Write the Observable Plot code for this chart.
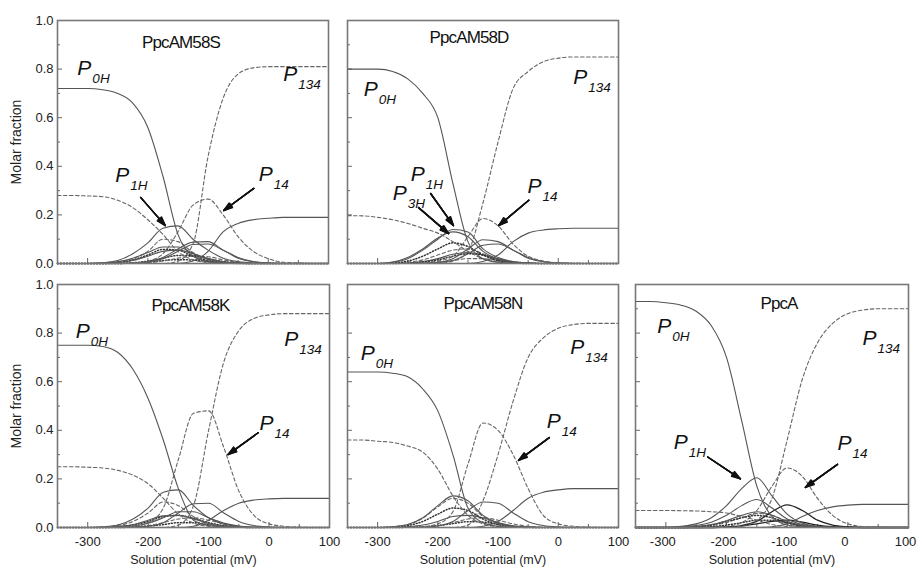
<!DOCTYPE html>
<html><head><meta charset="utf-8">
<script src="https://cdn.jsdelivr.net/npm/d3@7"></script>
<script src="https://cdn.jsdelivr.net/npm/@observablehq/plot@0.6"></script>
<style>
html,body{margin:0;padding:0;background:#fff;}
#chart{position:relative;width:917px;height:568px;overflow:hidden;background:#fff;font-family:"Liberation Sans",Arial,sans-serif;}
</style></head>
<body><div id="chart"></div>
<script>
// Solution potential grid (mV)
const X = [-350,-325,-300,-275,-250,-225,-200,-175,-150,-125,-100,-75,-50,-25,0,25,50,75,100];
const yTickValues = [0,0.2,0.4,0.6,0.8,1.0];
const yMinorTicks = [0.1,0.3,0.5,0.7,0.9];
const xTickValues = [-300,-200,-100,0,100];
const xMinorTicks = [-250,-150,-50,50];
const panelTitles = ["PpcAM58S","PpcAM58D","PpcAM58K","PpcAM58N","PpcA"];

// ---- PpcAM58S ----
const S_P0H   = [.72,.72,.72,.715,.70,.66,.56,.36,.12,.03,.008,.002,0,0,0,0,0,0,0];
const S_P134  = [0,0,0,0,0,0,0,0,.01,.08,.44,.68,.78,.805,.81,.81,.81,.81,.81];
const S_Pdesc = [.28,.28,.278,.275,.26,.23,.18,.12,.05,.015,.004,.001,0,0,0,0,0,0,0];
const S_P14   = [0,0,0,0,0,.002,.01,.04,.13,.24,.265,.20,.11,.05,.02,.005,.002,0,0];
const S_Prise = [0,0,0,0,0,0,0,0,0,.01,.05,.13,.165,.18,.186,.19,.19,.19,.19];
const S_P1H   = [0,0,0,.003,.012,.04,.085,.145,.155,.10,.055,.022,.008,.002,0,0,0,0,0];
const S_a = [0,0,0,0,0,.002,.008,.025,.06,.088,.09,.055,.022,.007,.002,0,0,0,0];
const S_b = [0,0,0,0,0,0,.005,.02,.05,.078,.08,.055,.025,.008,.002,0,0,0,0];
const S_c = [0,0,0,.002,.008,.022,.045,.068,.068,.042,.018,.006,.002,0,0,0,0,0,0];
const S_d = [0,0,0,0,.004,.012,.03,.05,.055,.04,.02,.007,.002,0,0,0,0,0,0];
const S_e = [0,0,0,.001,.006,.02,.05,.10,.09,.045,.015,.004,0,0,0,0,0,0,0];
const S_f = [0,0,0,0,.004,.015,.035,.058,.055,.03,.012,.004,0,0,0,0,0,0,0];
const S_g = [0,0,0,0,0,.003,.01,.022,.033,.033,.02,.008,.002,0,0,0,0,0,0];
const S_h = [0,0,0,0,0,0,.003,.01,.022,.03,.028,.015,.005,.001,0,0,0,0,0];
const S_i = [0,0,0,0,0,.002,.006,.012,.016,.014,.008,.003,.001,0,0,0,0,0,0];
const S_labelNames = ["0H","134","1H","14"];
const S_labelX = [-317,25,-254,-16];
const S_labelY = [.774,.75,.337,.34];
const S_arrowX1 = [-212,-24], S_arrowY1 = [.272,.309], S_arrowX2 = [-171,-74], S_arrowY2 = [.156,.218];

// ---- PpcAM58D ----
const D_P0H   = [.80,.80,.80,.79,.76,.70,.60,.33,.09,.02,.005,.001,0,0,0,0,0,0,0];
const D_P134  = [0,0,0,0,0,0,0,.01,.05,.25,.50,.72,.79,.83,.845,.85,.85,.85,.85];
const D_Pdesc = [.197,.196,.19,.18,.165,.145,.125,.09,.05,.02,.006,.001,0,0,0,0,0,0,0];
const D_P14   = [0,0,0,0,0,.003,.01,.03,.11,.185,.155,.08,.03,.01,.003,.001,0,0,0];
const D_Prise = [0,0,0,0,0,0,0,0,0,.008,.035,.09,.125,.138,.143,.145,.145,.145,.145];
const D_P1H   = [0,0,0,.005,.02,.055,.10,.14,.13,.06,.025,.008,.002,0,0,0,0,0,0];
const D_P3H   = [0,0,0,.006,.025,.06,.105,.13,.11,.05,.018,.005,.001,0,0,0,0,0,0];
const D_a = [0,0,0,0,0,.002,.005,.02,.06,.098,.09,.055,.022,.007,.002,0,0,0,0];
const D_b = [0,0,0,0,0,0,.003,.012,.04,.075,.08,.055,.025,.008,.002,0,0,0,0];
const D_c = [0,0,0,.002,.01,.03,.06,.085,.07,.035,.012,.003,0,0,0,0,0,0,0];
const D_d = [0,0,0,0,.005,.015,.035,.055,.06,.04,.018,.006,.001,0,0,0,0,0,0];
const D_e = [0,0,0,0,.002,.006,.015,.03,.04,.035,.018,.007,.002,0,0,0,0,0,0];
const D_f = [0,0,0,0,.002,.008,.02,.038,.045,.035,.018,.006,.002,0,0,0,0,0,0];
const D_g = [0,0,0,0,0,.002,.006,.012,.02,.02,.012,.005,.001,0,0,0,0,0,0];
const D_labelNames = ["0H","134","1H","3H","14"];
const D_labelX = [-323,25,-245,-275,-51];
const D_labelY = [.69,.74,.34,.26,.29];
const D_arrowX1 = [-212,-232,-49], D_arrowY1 = [.288,.23,.26], D_arrowX2 = [-174,-182,-99], D_arrowY2 = [.156,.123,.156];

// ---- PpcAM58K ----
const K_P0H   = [.75,.75,.75,.745,.72,.65,.53,.36,.16,.03,.008,.002,0,0,0,0,0,0,0];
const K_P134  = [0,0,0,0,0,0,0,0,.01,.09,.40,.68,.81,.86,.875,.88,.88,.88,.88];
const K_Pdesc = [.25,.25,.248,.245,.235,.215,.18,.12,.055,.018,.005,.001,0,0,0,0,0,0,0];
const K_P14   = [0,0,0,0,.001,.005,.02,.08,.28,.47,.48,.33,.15,.05,.015,.005,.001,0,0];
const K_Prise = [0,0,0,0,0,0,0,0,0,.005,.03,.07,.10,.113,.118,.12,.12,.12,.12];
const K_P1H   = [0,0,0,.003,.01,.035,.08,.145,.155,.09,.04,.013,.004,.001,0,0,0,0,0];
const K_a = [0,0,0,0,0,.002,.005,.02,.06,.098,.10,.06,.025,.008,.002,0,0,0,0];
const K_b = [0,0,0,.002,.008,.025,.06,.105,.09,.045,.015,.004,.001,0,0,0,0,0,0];
const K_c = [0,0,0,0,.004,.012,.03,.048,.05,.035,.016,.005,.001,0,0,0,0,0,0];
const K_d = [0,0,0,0,.003,.01,.025,.045,.05,.038,.02,.008,.002,0,0,0,0,0,0];
const K_e = [0,0,0,0,0,.002,.008,.02,.035,.04,.03,.015,.005,.001,0,0,0,0,0];
const K_f = [0,0,0,0,0,.002,.006,.012,.02,.02,.012,.005,.001,0,0,0,0,0,0];
const K_g = [0,0,0,0,.002,.006,.018,.04,.065,.065,.04,.018,.006,.001,0,0,0,0,0];
const K_labelNames = ["0H","134","14"];
const K_labelX = [-320,25,-16];
const K_labelY = [.78,.745,.40];
const K_arrowX1 = [-18], K_arrowY1 = [.39], K_arrowX2 = [-68], K_arrowY2 = [.30];

// ---- PpcAM58N ----
const N_P0H   = [.64,.64,.64,.635,.62,.57,.48,.30,.08,.02,.005,.001,0,0,0,0,0,0,0];
const N_P134  = [0,0,0,0,0,0,0,0,.01,.11,.30,.52,.70,.78,.82,.835,.84,.84,.84];
const N_Pdesc = [.36,.36,.355,.35,.335,.31,.24,.13,.05,.015,.004,.001,0,0,0,0,0,0,0];
const N_P14   = [0,0,0,0,0,.003,.015,.065,.26,.43,.40,.30,.16,.05,.015,.005,.001,0,0];
const N_Prise = [0,0,0,0,0,0,0,0,0,.005,.025,.07,.12,.145,.155,.16,.16,.16,.16];
const N_P1H   = [0,0,0,.003,.012,.04,.09,.13,.11,.05,.018,.005,.001,0,0,0,0,0,0];
const N_a = [0,0,0,0,0,.002,.006,.025,.07,.105,.10,.06,.024,.008,.002,0,0,0,0];
const N_b = [0,0,0,.003,.012,.038,.085,.12,.10,.045,.015,.004,.001,0,0,0,0,0,0];
const N_c = [0,0,0,.002,.008,.025,.055,.08,.07,.035,.012,.003,0,0,0,0,0,0,0];
const N_d = [0,0,0,0,.003,.01,.025,.045,.05,.04,.02,.007,.002,0,0,0,0,0,0];
const N_e = [0,0,0,0,0,.002,.008,.02,.035,.04,.03,.015,.005,.001,0,0,0,0,0];
const N_f = [0,0,0,0,.001,.003,.008,.016,.024,.022,.013,.005,.001,0,0,0,0,0,0];
const N_labelNames = ["0H","134","14"];
const N_labelX = [-328,20,-19];
const N_labelY = [.69,.716,.41];
const N_arrowX1 = [-15], N_arrowY1 = [.37], N_arrowX2 = [-66], N_arrowY2 = [.276];

// ---- PpcA ----
const A_P0H   = [.93,.93,.925,.915,.89,.83,.70,.44,.17,.045,.01,.003,0,0,0,0,0,0,0];
const A_P134  = [0,0,0,0,0,0,0,.005,.03,.12,.36,.61,.76,.84,.88,.895,.90,.90,.90];
const A_Pdesc = [.07,.07,.07,.069,.068,.065,.06,.045,.03,.012,.004,.001,0,0,0,0,0,0,0];
const A_P14   = [0,0,0,0,0,.001,.005,.02,.07,.17,.245,.21,.12,.05,.015,.004,.001,0,0];
const A_Prise = [0,0,0,0,0,0,0,0,0,.003,.015,.045,.07,.085,.092,.095,.095,.095,.095];
const A_P1H   = [0,0,0,.005,.015,.04,.09,.16,.205,.13,.055,.018,.005,.001,0,0,0,0,0];
const A_a = [0,0,0,.003,.008,.022,.05,.09,.115,.08,.035,.012,.003,0,0,0,0,0,0];
const A_b = [0,0,0,0,0,0,.002,.008,.025,.065,.093,.07,.03,.01,.003,0,0,0,0];
const A_c = [0,0,0,.001,.004,.012,.028,.05,.065,.05,.025,.008,.002,0,0,0,0,0,0];
const A_d = [0,0,0,0,.003,.01,.025,.04,.05,.04,.02,.007,.002,0,0,0,0,0,0];
const A_e = [0,0,0,0,.002,.008,.02,.04,.058,.05,.025,.008,.002,0,0,0,0,0,0];
const A_f = [0,0,0,0,0,.003,.01,.02,.03,.03,.018,.006,.001,0,0,0,0,0,0];
const A_g = [0,0,0,0,0,0,.002,.006,.015,.025,.03,.022,.01,.003,0,0,0,0,0];
const A_labelNames = ["0H","134","1H","14"];
const A_labelX = [-314,24,-287,-17];
const A_labelY = [.80,.75,.325,.317];
const A_arrowX1 = [-231,-17], A_arrowY1 = [.29,.26], A_arrowX2 = [-177,-70], A_arrowY2 = [.20,.165];

const STYLES = {
  solid: {stroke:"#555", strokeWidth:1.1},
  dark:  {stroke:"#222", strokeWidth:1.3},
  dash:  {stroke:"#666", strokeWidth:1.1, strokeDasharray:"3.5,2.5"},
  dot:   {stroke:"#333", strokeWidth:1.5, strokeDasharray:"1,2"}
};

const panels = [
  {title:panelTitles[0], left:57, top:20, w:271, h:243, showY:true, showX:false, tdx:-12, tdy:22, xdx:0,
   series:[[S_i,"dot"],[S_h,"dash"],[S_g,"dot"],[S_f,"dot"],[S_e,"dash"],[S_d,"solid"],[S_c,"solid"],[S_b,"solid"],[S_a,"solid"],
           [S_P1H,"solid"],[S_Prise,"solid"],[S_P14,"dash"],[S_Pdesc,"dash"],[S_P134,"dash"],[S_P0H,"solid"]],
   ln:S_labelNames, lx:S_labelX, ly:S_labelY, ax1:S_arrowX1, ay1:S_arrowY1, ax2:S_arrowX2, ay2:S_arrowY2},
  {title:panelTitles[1], left:347, top:20, w:271, h:243, showY:false, showX:false, tdx:-14, tdy:17, xdx:0,
   series:[[D_g,"dash"],[D_f,"solid"],[D_e,"dot"],[D_d,"dash"],[D_c,"dot"],[D_b,"solid"],[D_a,"solid"],[D_P3H,"solid"],
           [D_P1H,"solid"],[D_Prise,"solid"],[D_P14,"dash"],[D_Pdesc,"dash"],[D_P134,"dash"],[D_P0H,"solid"]],
   ln:D_labelNames, lx:D_labelX, ly:D_labelY, ax1:D_arrowX1, ay1:D_arrowY1, ax2:D_arrowX2, ay2:D_arrowY2},
  {title:panelTitles[2], left:57, top:284, w:272, h:243, showY:true, showX:true, tdx:-3, tdy:21, xdx:0,
   series:[[K_f,"dot"],[K_e,"dash"],[K_d,"dot"],[K_c,"solid"],[K_g,"solid"],[K_b,"dash"],[K_a,"solid"],
           [K_P1H,"solid"],[K_Prise,"solid"],[K_P14,"dash"],[K_Pdesc,"dash"],[K_P134,"dash"],[K_P0H,"solid"]],
   ln:K_labelNames, lx:K_labelX, ly:K_labelY, ax1:K_arrowX1, ay1:K_arrowY1, ax2:K_arrowX2, ay2:K_arrowY2},
  {title:panelTitles[3], left:347, top:284, w:271, h:243, showY:false, showX:true, tdx:0, tdy:19, xdx:0,
   series:[[N_f,"dot"],[N_e,"dash"],[N_d,"solid"],[N_c,"dot"],[N_b,"dash"],[N_a,"solid"],
           [N_P1H,"solid"],[N_Prise,"solid"],[N_P14,"dash"],[N_Pdesc,"dash"],[N_P134,"dash"],[N_P0H,"solid"]],
   ln:N_labelNames, lx:N_labelX, ly:N_labelY, ax1:N_arrowX1, ay1:N_arrowY1, ax2:N_arrowX2, ay2:N_arrowY2},
  {title:panelTitles[4], left:635, top:284, w:273, h:243, showY:false, showX:true, tdx:7, tdy:19, xdx:-3,
   series:[[A_g,"dark"],[A_f,"dot"],[A_e,"dash"],[A_d,"dot"],[A_c,"solid"],[A_b,"dark"],[A_a,"solid"],
           [A_P1H,"solid"],[A_Prise,"solid"],[A_P14,"dash"],[A_Pdesc,"dash"],[A_P134,"dash"],[A_P0H,"solid"]],
   ln:A_labelNames, lx:A_labelX, ly:A_labelY, ax1:A_arrowX1, ay1:A_arrowY1, ax2:A_arrowX2, ay2:A_arrowY2}
];

const chart = document.getElementById("chart");
for (const p of panels) {
  const mL = p.showY ? 57 : 12, mR = 16, mT = 6, mB = p.showX ? 41 : 6;
  const marks = [];
  // inward ticks
  marks.push(Plot.tickY(yMinorTicks, {y: d => d, stroke:"#666", strokeWidth:1, insetRight: p.w - 3}));
  marks.push(Plot.tickY(yTickValues, {y: d => d, stroke:"#666", strokeWidth:1, insetRight: p.w - 5}));
  marks.push(Plot.tickX(xTickValues, {x: d => d, stroke:"#666", strokeWidth:1, insetTop: p.h - 5}));
  marks.push(Plot.tickX(xMinorTicks, {x: d => d, stroke:"#666", strokeWidth:1, insetTop: p.h - 3}));
  for (const [arr, st] of p.series) {
    const rows = X.map((x, i) => ({x, y: arr[i]}));
    marks.push(Plot.line(rows, {x:"x", y:"y", curve:"monotone-x", ...STYLES[st]}));
  }
  marks.push(Plot.frame({stroke:"#777", strokeWidth:1.6}));
  if (p.showY) {
    marks.push(Plot.axisY({ticks: yTickValues, tickSize: 0, tickPadding: 4, tickFormat: d => d.toFixed(1), label: null, fontSize: 13}));
    marks.push(Plot.text(["Molar fraction"], {frameAnchor:"left", dx:-41, rotate:-90, fontSize:14, textAnchor:"middle", lineAnchor:"middle"}));
  }
  if (p.showX) {
    marks.push(Plot.axisX({ticks: xTickValues, tickSize: 0, tickPadding: 9, dx: p.xdx, tickFormat: d => String(d), label: null, fontSize: 13}));
    marks.push(Plot.text(["Solution potential (mV)"], {frameAnchor:"bottom", dy:32, fontSize:12.5, textAnchor:"middle", lineAnchor:"middle"}));
  }
  // title
  marks.push(Plot.text([p.title], {frameAnchor:"top", dx:p.tdx, dy:p.tdy, fontSize:17, textAnchor:"middle", lineAnchor:"middle", fill:"#111"}));
  // labels P with subscript
  marks.push(Plot.text(p.ln, {x:(d,i)=>p.lx[i], y:(d,i)=>p.ly[i], text:()=>"P", fontSize:21, fontStyle:"italic", textAnchor:"start", lineAnchor:"bottom", fill:"#111"}));
  marks.push(Plot.text(p.ln, {x:(d,i)=>p.lx[i], y:(d,i)=>p.ly[i], text:d=>d, dx:15, dy:8, fontSize:13.5, fontStyle:"italic", textAnchor:"start", lineAnchor:"bottom", fill:"#111"}));
  // arrows (several head angles to give a filled head)
  for (const a of [36, 26, 16, 8]) {
    marks.push(Plot.arrow(p.ax1, {x1:(d,i)=>p.ax1[i], y1:(d,i)=>p.ay1[i], x2:(d,i)=>p.ax2[i], y2:(d,i)=>p.ay2[i],
      stroke:"#111", strokeWidth:1.4, headLength:10, headAngle:a}));
  }
  const svg = Plot.plot({
    width: p.w + mL + mR, height: p.h + mT + mB,
    marginLeft: mL, marginRight: mR, marginTop: mT, marginBottom: mB,
    x: {domain:[-350,100], axis:null},
    y: {domain:[0,1], axis:null},
    style: {background:"transparent", fontFamily:"'Liberation Sans', Arial, sans-serif", fontSize:"13px", color:"#222", overflow:"visible"},
    marks
  });
  svg.querySelectorAll("text").forEach(t => { if (panelTitles.includes(t.textContent)) t.setAttribute("letter-spacing","-0.9"); });
  svg.style.position = "absolute";
  svg.style.left = (p.left - mL) + "px";
  svg.style.top = (p.top - mT) + "px";
  chart.appendChild(svg);
}
</script>
</body></html>
